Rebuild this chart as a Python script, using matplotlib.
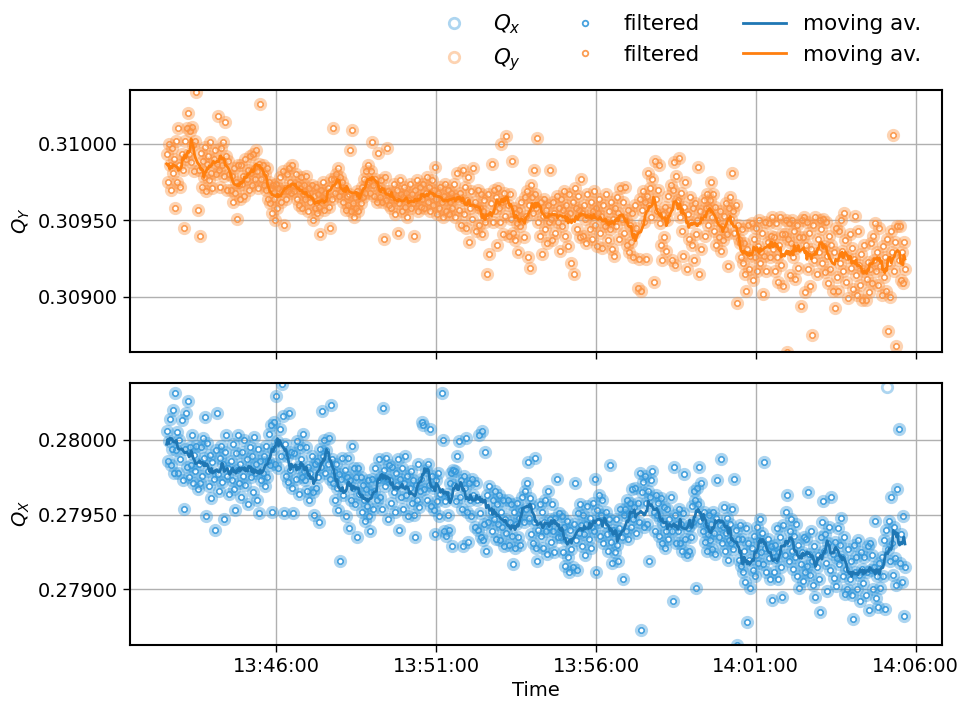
import numpy as np
import pandas as pd
import matplotlib
matplotlib.use("Agg")
import matplotlib.pyplot as plt
import matplotlib.dates as mdates
from matplotlib.ticker import MultipleLocator, FormatStrFormatter

START = "2021-06-15 13:42:34"
STEP_S = 2          # one tune reading every 2 s
QX_REF = 0.27950
QY_REF = 0.30950

# vertical tune readings, 1e-5 units relative to QY_REF (one row per minute)
qy_dev = [
    43, 25, 50, 36, 20, 47, 31, 40, 8, 52, 25, 60, 36, 22, 43, 33, -5, 52, 40, 60, 70, 43, 58, 38, 61, 49, 32, 52, 84, 7,
    33, -10, 44, 22, 39, 28, 48, 19, 37, 42, 26, 51, 31, 21, 40, 46, 30, 37, 68, 33, 22, 47, 36, 51, 29, 64, 42, 20, 39, 30,
    20, 29, 12, 34, 18, 25, 1, 36, 23, 14, 36, 24, 29, 16, 40, 27, 33, 20, 42, 31, 23, 43, 34, 27, 46, 32, 21, 37, 76, 27,
    36, 23, 30, 20, 34, 14, 25, 11, 21, 5, 23, 14, 0, 24, 8, 21, 28, 12, 19, 32, -3, 21, 14, 30, 19, 34, 25, 18, 36, 23,
    19, 30, 14, 24, 10, 21, 28, 8, 17, 23, 14, 29, 17, 6, 21, 12, 23, 0, 16, 8, 22, 5, 17, 9, -9, 20, 13, 25, 7, 18,
    14, 21, 9, -5, 27, 14, 60, 27, 18, 30, 23, 34, 16, 28, 19, 25, 12, 21, 7, 16, 10, 17, 46, 6, 59, 11, 2, 15, 8, 19,
    6, 16, 11, 22, 15, 27, 18, 32, 24, 36, 25, 18, 32, 51, 23, 16, 27, 12, 44, 21, 15, 26, 12, 20, -12, 28, 13, 47, 19, 10,
    18, 8, 15, 24, 4, 13, 20, -8, 11, 26, 17, 6, 15, 22, 9, 18, 2, 13, 24, 8, 17, 11, -10, 20, 13, 26, 6, 15, 22, 9,
    14, 24, 8, 18, 28, 12, 22, 6, 16, 26, 10, 20, 35, 14, 4, 18, 8, 22, 12, 2, 16, 24, 6, 14, 20, 4, 12, 18, 8, 14,
    24, 2, 16, 31, 7, 18, -3, 13, 33, 4, 22, -5, 13, 28, -14, 8, 19, 1, 34, 12, -7, 9, 20, -3, 8, 17, -9, 6, 13, -1,
    3, -35, 17, -22, 11, 37, -1, 20, 6, 15, -16, 21, 8, -1, 50, 12, -9, 18, 3, 55, 10, -10, 17, 1, 39, -8, 8, -13, 5, -2,
    -21, 7, -4, 12, 1, -11, 15, 3, 19, -24, 10, -31, 23, 15, 5, 33, 17, 8, 54, -1, -10, 12, -22, 3, 14, -6, 7, -15, 10, -1,
    33, 1, -13, 12, 5, -8, 16, -1, 8, -20, 14, -4, 7, 19, -10, 10, 3, -17, 17, 5, -28, 12, -35, 21, 8, -6, 16, 7, -11, 27,
    5, -10, 10, 1, -15, 17, 3, -6, 12, -12, 6, 19, -3, 8, -17, 5, 14, -8, 3, -18, 10, -4, 17, -1, -13, 6, -6, 12, -19, 1,
    -23, 8, -4, 15, 5, -12, 21, 1, 12, -8, 22, 0, -16, 7, -21, -3, -14, 5, -24, -8, 10, -5, -44, -25, 14, -46, 7, 19, -1, 12,
    -25, 16, 31, 10, 21, 2, 27, -40, 39, 14, 6, 20, 36, -2, -16, -26, 4, -11, 9, -20, 0, 16, 7, 23, -26, 20, 38, -29, 29, 12,
    13, 41, 2, 18, -7, -23, 9, 25, -32, 4, -12, 15, -1, -16, 8, -26, 11, -9, 0, 35, -35, 6, -19, 2, 13, -10, 8, 17, -3, 9,
    13, 25, 2, 17, -7, 9, -16, 0, -11, 6, -20, -4, -13, 3, -6, 11, -9, -30, 8, 15, 1, 31, 6, -8, 10, -54, -3, -12, -15, -24,
    -6, -28, -15, -35, -46, -19, -3, -32, -23, -2, -39, -12, -24, -5, -33, -17, 0, -28, -21, -8, -48, -23, -1, -33, -14, -2, -24, -10, 2, -19,
    -11, -33, -2, -24, -40, -16, 2, -29, -9, -43, -9, 0, -86, -12, -2, -36, -15, 0, -24, -7, -38, -18, -3, -31, -11, -56, 0, -11, 2, -47,
    -16, -1, -32, -8, -43, -19, -75, -3, -26, 2, -35, -12, -21, 0, -6, -28, 1, -17, -34, -1, -23, -41, -10, -32, -16, -46, -21, -57, -5, -37,
    -46, -7, -28, 0, -20, -33, 5, -13, -40, -24, -51, -9, -31, -18, -45, -25, 3, -36, -49, -7, -29, -42, -22, -52, -33, -16, -52, -38, -27, -47,
    -32, -15, -41, -10, -26, -2, -33, -21, -42, -5, -30, -49, -17, -37, -24, -46, -12, -72, -28, -50, -7, -21, 56, -33, -14, -82, -4, -26, -4, -39,
    -21, -41, -14, -32,
]

# horizontal tune readings, 1e-5 units relative to QX_REF
qx_dev = [
    56, 36, 49, 64, 33, 44, 70, 28, 81, 43, 55, 28, 50, 37, 63, 23, 4, 44, 68, 32, 76, 25, 45, 33, 53, 21, 40, 29, 46, 17,
    34, 21, 45, 26, 51, 38, 65, -1, 48, 29, 19, 40, 11, 35, 24, -10, 43, 68, 27, 16, 38, 46, 22, 34, -3, 42, 53, 26, 31, 14,
    36, 23, 47, 17, 3, 41, 30, 53, 21, 34, 12, 42, 26, 50, 20, 37, 7, 31, 45, 25, 39, 15, 52, 28, 34, 10, 44, 1, 36, 23,
    28, 39, 19, 46, 25, 36, 54, 33, 60, 2, 44, 62, 34, 79, 49, 31, 57, 39, 87, 66, 1, 47, 26, 39, 22, 68, 30, 42, 18, 1,
    41, 24, 49, 32, 14, 45, 37, 25, 54, 29, 23, 45, 16, 32, 10, 28, 39, 15, 0, 34, 18, 36, 25, -5, 44, 32, 69, 39, 50, 28,
    43, 34, 51, 24, 73, 37, 21, 29, 10, 34, 18, 3, 27, -31, 24, 38, 13, 30, -1, 25, 38, -9, 23, 10, 46, 18, 31, 7, 25, -15,
    31, 14, 25, 2, 20, 10, -4, 17, 6, 23, -1, -11, 15, 24, 4, 16, 31, 10, 23, 37, 12, 25, 4, 71, 30, 19, 38, 24, -3, 33,
    23, 8, 32, 15, 2, 28, 20, 37, -10, 24, 12, 31, 4, 21, 39, 13, 26, -1, 18, 29, 8, 23, 0, -15, 20, 10, 34, 5, 16, 24,
    62, 60, 17, 30, 10, 34, 20, 57, 6, 26, 18, 3, -13, 23, 9, 28, -1, 14, 81, 50, -11, 9, -14, 14, 0, -10, 21, 28, -21, 30,
    20, 29, 9, 39, 49, 12, 23, 4, -21, 26, 18, 51, 2, -18, 21, 10, -1, 24, 13, -8, 21, 10, -10, 53, 1, -15, 56, -17, -6, 42,
    -24, 13, -5, 19, 2, -11, 10, -3, 16, -16, 7, -6, 13, -17, 2, -8, 10, -21, -3, -12, 10, -20, -5, 7, -14, -33, 2, -22, -6, 8,
    -15, -2, -20, 3, 12, -5, 16, 4, 21, 35, -2, 11, -13, 6, -19, -5, 38, -22, -31, -10, 7, -14, 2, -22, -5, 10, -11, -26, 16, -8,
    -3, -18, 7, -11, -25, -2, 24, -15, 1, -10, -15, -1, -25, -8, -34, -17, -4, -28, -38, -10, -23, -35, -6, 21, -17, -37, 1, -12, 7, -7,
    -21, 0, -13, -27, -6, 6, -16, -2, -22, -8, 8, -11, 24, -38, 3, -5, 13, -14, 0, 10, -19, -7, 2, -13, -24, -3, 33, -18, -32, -10,
    -12, -25, -3, -20, -31, -9, 4, -15, -43, 0, 4, -11, 10, -16, 0, 8, -8, 17, -3, 5, 18, -12, 8, -5, 28, -77, 15, 22, -8, 26,
    8, -6, 16, -31, 12, 23, 29, 2, -11, 13, 0, 8, -14, -3, 11, -19, -6, 5, -22, -11, 4, -16, -3, 12, -11, -58, 32, 0, -19, -6,
    -11, 4, -19, -6, -24, 1, 27, -16, -27, -9, -24, -7, -15, 6, -5, 16, 10, -49, 18, 7, 32, -4, 21, -11, 2, -18, -7, -24, -13, 0,
    -17, -6, -23, 2, -12, -26, -2, 23, -15, -7, 37, -19, -8, 5, -24, -12, -2, -30, -17, -6, -19, 4, -23, 24, -10, -87, -16, -30, -7, -34,
    -16, -38, -24, -45, -9, -72, -19, -30, -49, -22, -37, -14, -41, -27, -8, -32, -17, -3, -25, -12, -33, 35, -22, -38, -16, -29, -43, -21, -57, -25,
    -38, -20, -30, -9, -43, -25, -15, -35, -55, -7, -27, 2, 13, -19, -31, -11, -3, -24, -36, -14, -28, -6, -41, -20, -49, -33, -25, -44, -15, -38,
    -16, -34, 15, -26, -40, -11, -31, -47, -21, -55, -35, -27, -43, -65, -15, -5, 9, -24, -13, -32, -51, -19, -8, -37, 12, -26, -42, -18, -48, -29,
    -9, -33, -20, -2, -28, -41, -15, -53, -36, -50, -23, -43, -31, -54, -70, -20, -38, -28, -50, -17, -40, -58, -25, -36, -46, -28, -54, -38, -21, -64,
    -19, -37, -27, -50, -35, -4, -56, -41, -62, -32, -49, -28, -41, -17, -63, -10, 85, -23, -4, -31, 12, -19, -40, -8, -29, -47, 17, 57, -32, -13,
    -45, -1, -68, -35,
]


def tune_series(dev, ref):
    q = ref + np.asarray(dev) * 1e-5
    t = pd.Timestamp(START) + pd.to_timedelta(np.arange(len(q)) * STEP_S, unit="s")
    raw = pd.Series(q, index=t)
    # drop spikes far from the running median
    med = raw.rolling(31, center=True, min_periods=1).median()
    filt = raw[(raw - med).abs() < 1e-3]
    mav = filt.rolling(12, center=True, min_periods=1).mean()
    return raw, filt, mav


qy_raw, qy_filt, qy_mav = tune_series(qy_dev, QY_REF)
qx_raw, qx_filt, qx_mav = tune_series(qx_dev, QX_REF)

BLUE = "#3498db"
ORANGE = "#fb9240"

fig, (ax_y, ax_x) = plt.subplots(2, 1, figsize=(9.68, 7.04), dpi=100, sharex=True)
fig.subplots_adjust(left=0.134, right=0.973, top=0.872, bottom=0.084, hspace=0.118)

handles = {}
for ax, raw, filt, mav, col, line_col, name in [
    (ax_y, qy_raw, qy_filt, qy_mav, ORANGE, "#ff7f0e", "y"),
    (ax_x, qx_raw, qx_filt, qx_mav, BLUE, "#1f77b4", "x"),
]:
    h_raw, = ax.plot(raw.index, raw.values, "o", ms=7.5, mfc="none", mec=col,
                     mew=2, alpha=0.4, label=f"$Q_{name}$")
    h_filt, = ax.plot(filt.index, filt.values, "o", ms=4, mfc="none", mec=col,
                      mew=1.3, alpha=0.9, label="filtered")
    h_mav, = ax.plot(mav.index, mav.values, "-", color=line_col, lw=2,
                     label="moving av.")
    handles[name] = (h_raw, h_filt, h_mav)

    ax.grid(True, color="#b0b0b0", lw=1)
    ax.yaxis.set_major_locator(MultipleLocator(0.0005))
    ax.yaxis.set_major_formatter(FormatStrFormatter("%.5f"))
    ax.tick_params(labelsize=14, length=5, width=1)
    for sp in ax.spines.values():
        sp.set_linewidth(1.5)

ax_y.set_ylim(0.30864, 0.31035)
ax_x.set_ylim(0.27863, 0.28038)
ax_y.set_ylabel("$Q_Y$", fontsize=14)
ax_x.set_ylabel("$Q_X$", fontsize=14)
ax_x.set_xlabel("Time", fontsize=14)

ax_x.xaxis.set_major_locator(mdates.MinuteLocator(byminute=range(1, 60, 5)))
ax_x.xaxis.set_major_formatter(mdates.DateFormatter("%H:%M:%S"))

hx, hy = handles["x"], handles["y"]
order = [hx[0], hy[0], hx[1], hy[1], hx[2], hy[2]]
fig.legend(handles=order, labels=[h.get_label() for h in order], ncol=3,
           loc="upper right", bbox_to_anchor=(0.961, 0.995), borderaxespad=0,
           frameon=False, fontsize=15.5)

fig.savefig("out.png", dpi=100)
